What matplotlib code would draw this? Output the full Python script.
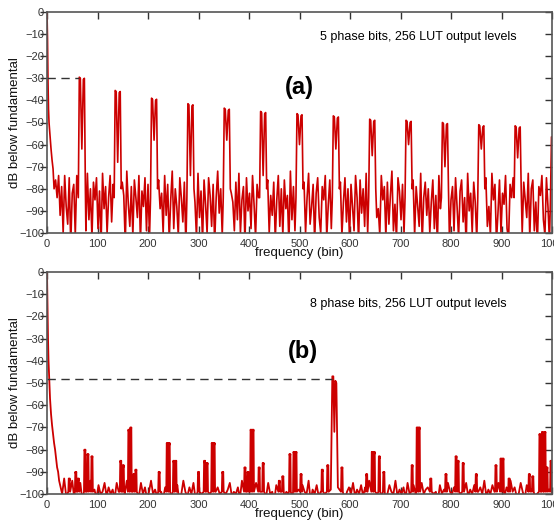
import numpy as np
import matplotlib
matplotlib.use("Agg")
import matplotlib.pyplot as plt

plt.rcParams['font.family'] = ['Liberation Sans', 'DejaVu Sans']

RED = '#cc0000'

# ---- panel (a): 5 phase bits ----
skirt_a_bins = [0, 1, 2, 3, 4, 6, 8, 10, 12]
skirt_a_db = [0, -12, -32, -44, -50, -56, -62, -67, -71]

# noise floor, one value every 3 bins starting at bin 14
floor_a = [
    -80, -76, -84, -74, -92, -79, -100, -74, -88, -96, -75, -105, -82, -78, -101, -74, -90, -83, -104, -76, -86, -99, -73, -94, -80,
    -102, -77, -85, -75, -98, -81, -106, -73, -89, -79, -100, -84, -74, -95, -78, -103, -86, -75, -91, -100, -77, -83, -105, -72, -87,
    -97, -79, -101, -76, -84, -93, -74, -104, -81, -88, -75, -99, -78, -102, -85, -73, -96, -80, -107, -76, -89, -82, -100, -74, -92,
    -78, -103, -85, -72, -98, -80, -88, -101, -75, -84, -95, -77, -106, -82, -74, -90, -99, -79, -86, -102, -73, -93, -81, -104, -76,
    -87, -100, -75, -83, -97, -78, -105, -84, -72, -91, -80, -101, -76, -89, -96, -74, -103, -82, -86, -99, -77, -94, -73, -100, -85,
    -79, -104, -75, -90, -82, -98, -74, -87, -102, -78, -84, -95, -73, -106, -81, -88, -76, -100, -83, -92, -77, -103, -85, -74, -97,
    -80, -101, -76, -89, -83, -105, -72, -94, -79, -99, -86, -75, -103, -81, -90, -77, -100, -84, -73, -96, -88, -78, -104, -82, -75,
    -93, -100, -79, -85, -74, -102, -87, -76, -98, -81, -106, -73, -90, -84, -77, -101, -86, -75, -95, -80, -103, -78, -88, -99, -74,
    -84, -104, -76, -91, -80, -97, -73, -100, -86, -78, -105, -82, -75, -93, -89, -101, -74, -85, -79, -102, -77, -96, -83, -72, -99,
    -87, -103, -75, -81, -94, -78, -100, -85, -74, -106, -82, -90, -76, -101, -79, -88, -97, -73, -104, -84, -77, -92, -80, -100, -86,
    -76, -98, -83, -105, -74, -89, -80, -101, -78, -93, -72, -104, -85, -79, -99, -75, -88, -102, -81, -76, -95, -84, -106, -73, -90,
    -82, -100, -77, -86, -103, -74, -92, -79, -105, -83, -75, -97, -88, -101, -73, -85, -78, -104, -91, -76, -100, -82, -87, -74, -98,
    -103, -78, -84, -75, -96, -81, -107, -74, -89, -100, -77, -85, -93, -73, -102, -80, -76, -99, -86, -105, -79, -83, -74, -94, -101,
    -75, -88, -104, -80, -77, -97, -84, -100, -73, -91, -82, -106, -76, -87, -99, -78, -103, -74, -85, -95, -81, -100, -77, -92, -84,
]

# spur pairs: centre bin, twin peak level, dip between peaks
spur_a_center = [69, 140, 212, 284, 356, 428, 500, 572, 644, 716, 788, 860, 932, 1004]
spur_a_peak = [-30, -36, -39.5, -42, -44, -45.5, -46.5, -47.5, -49, -49.5, -50.5, -51.5, -52, -57]
spur_a_dip = [-62, -68, -58, -74, -58, -74, -60, -62, -65, -60, -70, -62, -66, -60]

# ---- panel (b): 8 phase bits ----
skirt_b_bins = [0, 1, 2, 3, 4, 5, 6, 8, 10, 12, 14, 16, 18, 20, 22, 24]
skirt_b_db = [0, -15, -30, -40, -46, -52, -57, -64, -69, -73, -77, -80, -84, -88, -90, -94]

# noise floor, one value every 4 bins starting at bin 26
floor_b = [
    -96, -100, -93, -101, -97, -99, -94, -102, -98, -100, -95, -103, -99, -97, -101, -94, -100, -98, -102, -96, -100, -99, -95, -101, -97,
    -100, -98, -102, -95, -99, -101, -97, -100, -94, -103, -99, -96, -100, -98, -101, -95, -100, -97, -102, -99, -94, -100, -98, -101, -96,
    -99, -102, -97, -100, -95, -101, -98, -100, -96, -103, -100, -94, -99, -101, -97, -100, -95, -102, -99, -98, -100, -96, -101, -97, -100,
    -94, -101, -99, -97, -100, -103, -96, -100, -98, -95, -101, -99, -100, -97, -102, -94, -100, -98, -101, -96, -99, -100, -95, -102, -98,
    -100, -97, -101, -95, -100, -99, -103, -96, -100, -98, -94, -101, -99, -100, -97, -102, -95, -100, -98, -101, -96, -99, -100, -94, -103,
    -98, -100, -96, -101, -99, -95, -100, -102, -97, -100, -94, -99, -101, -98, -100, -96, -103, -99, -97, -100, -95, -101, -98, -100, -96,
    -101, -97, -100, -94, -102, -99, -98, -100, -95, -101, -97, -103, -100, -96, -99, -100, -94, -101, -98, -100, -97, -102, -95, -100, -99,
    -96, -100, -99, -102, -95, -100, -98, -97, -101, -94, -100, -99, -103, -96, -100, -98, -101, -95, -99, -100, -97, -102, -94, -100, -98,
    -100, -95, -101, -98, -100, -96, -103, -99, -97, -100, -94, -101, -98, -100, -96, -99, -102, -95, -100, -98, -101, -97, -100, -94, -99,
    -97, -101, -100, -95, -99, -102, -96, -100, -98, -94, -101, -100, -97, -103, -99, -96, -100, -98, -95, -101, -99, -100, -96, -102, -98,
]

# narrow spurs: bin and level
spike_b_bins = [44, 57, 62, 75, 81, 89, 146, 151, 162, 166, 172, 176, 222, 238, 242, 251, 255,
                300, 312, 317, 327, 331, 348, 392, 398, 404, 408, 420, 428, 460, 467, 481, 489, 493,
                503, 545, 556, 584, 633, 644, 648, 658, 667, 723, 733, 737, 760, 790, 810, 814, 824,
                850, 889, 899, 903, 915, 955, 962, 976, 981, 986, 990, 998]
spike_b_db = [-93, -90, -93, -80, -82, -83, -85, -87, -71, -70, -91, -89, -90, -77, -77, -85, -85,
              -90, -85, -86, -77, -77, -90, -88, -90, -71, -71, -88, -86, -94, -92, -82, -81, -81,
              -91, -89, -87, -88, -91, -81, -81, -83, -90, -87, -70, -70, -93, -91, -83, -85, -86,
              -91, -87, -84, -84, -93, -91, -92, -73, -72, -72, -88, -85]

# main spur of panel (b)
main_b_bins = [562, 565, 567, 569, 571, 573, 576]
main_b_db = [-98, -47, -47, -72, -49, -50, -97]

ticks_y = list(range(-100, 1, 10))
ticks_x = list(range(0, 1001, 100))


def build_a():
    fb = 14 + 3 * np.arange(len(floor_a))
    pts = list(zip(skirt_a_bins, skirt_a_db))
    cen = np.array(spur_a_center)
    for b, v in zip(fb, floor_a):
        if np.min(np.abs(cen - b)) > 7:
            pts.append((b, v))
    for c, p, d in zip(spur_a_center, spur_a_peak, spur_a_dip):
        pts += [(c - 7, -84), (c - 5, p + 0.5), (c - 3, p), (c, d),
                (c + 3, p - 0.5), (c + 5, p), (c + 7, -80)]
    pts.sort()
    x, y = zip(*pts)
    return x, y


def build_b():
    fb = 26 + 4 * np.arange(len(floor_b))
    pts = list(zip(skirt_b_bins, skirt_b_db))
    occ = np.array(spike_b_bins + main_b_bins)
    for b, v in zip(fb, floor_b):
        if np.min(np.abs(occ - b)) > 2:
            pts.append((b, v))
    for b, v in zip(spike_b_bins, spike_b_db):
        pts += [(b - 1.8, -99), (b - 0.9, v), (b + 0.2, v - 1), (b + 1.0, v), (b + 1.8, -99)]
    pts += list(zip(main_b_bins, main_b_db))
    pts.sort()
    x, y = zip(*pts)
    return x, y


def style(ax):
    ax.set_xlim(0, 1000)
    ax.set_ylim(-100, 0)
    ax.set_xticks(ticks_x)
    ax.set_yticks(ticks_y)
    for s in ax.spines.values():
        s.set_color('#555555')
        s.set_linewidth(1.2)
    ax.tick_params(axis='y', left=True, right=True, direction='in', length=5,
                   width=1, color='#333333', labelsize=8, labelcolor='#333333', pad=2)
    ax.tick_params(axis='x', top=True, bottom=True, direction='in', length=5,
                   width=1, color='#333333', labelsize=8, labelcolor='#333333', pad=4)
    for t in ax.yaxis.get_major_ticks():
        t.tick1line.set_marker(matplotlib.lines.TICKLEFT)
    ax.set_xlabel('frequency (bin)', fontsize=9.5, labelpad=-1, color='#111111')
    ax.set_ylabel('dB below fundamental', fontsize=9.5, color='#111111')
    ax.yaxis.set_label_coords(-26 / 505, 0.5)


fig = plt.figure(figsize=(5.54, 5.25), dpi=100)
ax1 = fig.add_axes([47 / 554, (525 - 233) / 525, 505 / 554, 221 / 525])
ax2 = fig.add_axes([47 / 554, (525 - 494) / 525, 505 / 554, 222 / 525])

xa, ya = build_a()
ax1.plot(xa, ya, color=RED, lw=1.2)
ax1.plot([0, 64], [-30, -30], color='#333333', lw=1.0, ls=(0, (6, 4)))
style(ax1)
ax1.text(0.735, 0.887, '5 phase bits, 256 LUT output levels', transform=ax1.transAxes,
         ha='center', va='center', fontsize=9)
ax1.text(0.50, 0.66, '(a)', transform=ax1.transAxes, ha='center', va='center',
         fontsize=17, fontweight='bold')

xb, yb = build_b()
ax2.plot(xb, yb, color=RED, lw=1.3)
ax2.plot([0, 565], [-48, -48], color='#333333', lw=1.0, ls=(0, (6, 4)))
style(ax2)
ax2.text(0.715, 0.856, '8 phase bits, 256 LUT output levels', transform=ax2.transAxes,
         ha='center', va='center', fontsize=9)
ax2.text(0.507, 0.64, '(b)', transform=ax2.transAxes, ha='center', va='center',
         fontsize=17, fontweight='bold')

fig.savefig('out.png', dpi=100)
